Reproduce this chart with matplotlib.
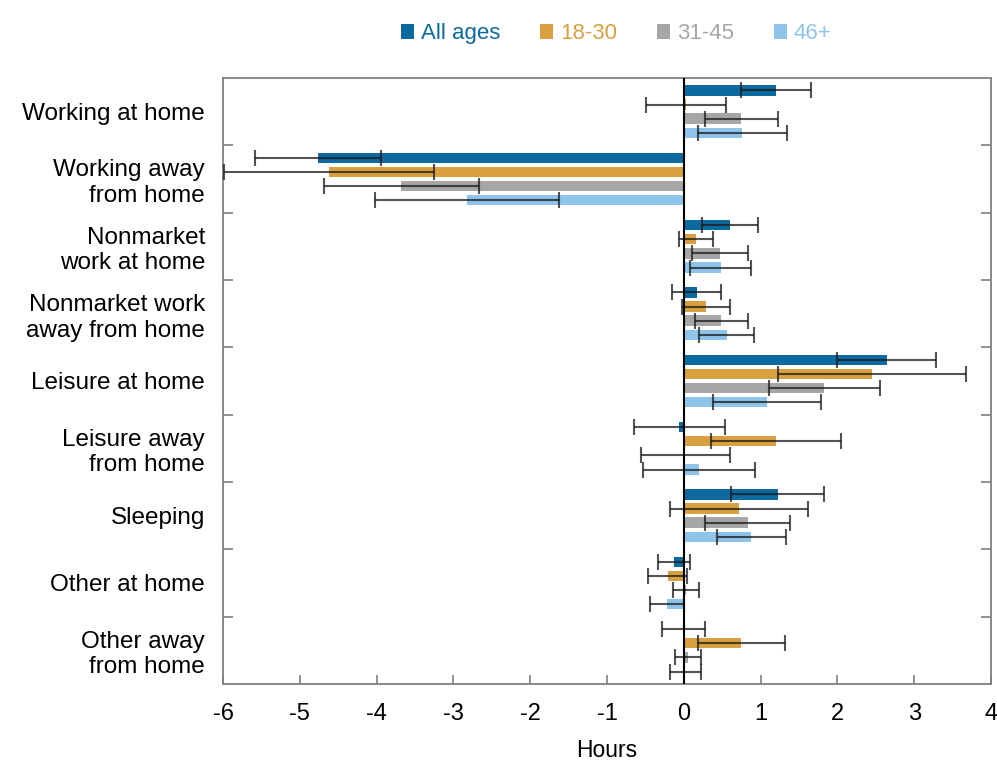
"""
Change in time use by activity and age group, hours per day.
"""
import numpy as np
import matplotlib
matplotlib.use("Agg")
import matplotlib.pyplot as plt
from matplotlib.patches import Patch

plt.rcParams["font.family"] = ["Liberation Sans", "DejaVu Sans"]
plt.rcParams["axes.unicode_minus"] = False

# ── Data ───────────────────────────────────────────────────────────────────
categories = [
    "Working at home",
    "Working away\nfrom home",
    "Nonmarket\nwork at home",
    "Nonmarket work\naway from home",
    "Leisure at home",
    "Leisure away\nfrom home",
    "Sleeping",
    "Other at home",
    "Other away\nfrom home",
]
groups = ["All ages", "18-30", "31-45", "46+"]

all_ages = [1.20, -4.76, 0.60, 0.17, 2.64, -0.06, 1.22, -0.13, -0.01]
all_err  = [0.46, 0.82, 0.36, 0.32, 0.65, 0.59, 0.60, 0.21, 0.28]

age_18_30 = [0.03, -4.62, 0.16, 0.29, 2.45, 1.20, 0.72, -0.21, 0.75]
err_18_30 = [0.52, 1.37, 0.22, 0.31, 1.22, 0.85, 0.90, 0.25, 0.57]

age_31_45 = [0.75, -3.68, 0.47, 0.49, 1.83, 0.02, 0.83, 0.03, 0.06]
err_31_45 = [0.48, 1.01, 0.37, 0.34, 0.72, 0.58, 0.55, 0.17, 0.17]

age_46p = [0.76, -2.82, 0.48, 0.56, 1.08, 0.20, 0.88, -0.22, 0.02]
err_46p = [0.58, 1.20, 0.40, 0.36, 0.70, 0.73, 0.45, 0.22, 0.20]

values = [all_ages, age_18_30, age_31_45, age_46p]
errors = [all_err, err_18_30, err_31_45, err_46p]
colors = ["#0b6a9f", "#d8a040", "#a6a6a8", "#8ec4ea"]

# ── Figure ─────────────────────────────────────────────────────────────────
fig = plt.figure(figsize=(9.97, 7.68), dpi=100)
ax = fig.add_axes([0.2237, 0.1094, 0.7703, 0.7891])

y = np.arange(len(categories))
offsets = [-0.315, -0.105, 0.105, 0.315]
bar_h = 0.155

for vals, errs, col, off in zip(values, errors, colors, offsets):
    ax.barh(y + off, vals, height=bar_h, color=col, zorder=2)
    ax.errorbar(vals, y + off, xerr=errs, fmt="none", ecolor="#1a1a1a",
                alpha=0.75, elinewidth=1.5, capsize=6, capthick=1.5, zorder=3)

ax.axvline(0, color="black", linewidth=1.5, zorder=4)

ax.set_xlim(-6, 4)
ax.set_ylim(len(categories) - 0.5, -0.5)
ax.set_xticks(range(-6, 5))
ax.set_xlabel("Hours", fontsize=16.5, labelpad=10)

ax.set_yticks(y)
ax.set_yticklabels(categories, fontsize=17.5)
ax.set_yticks(np.arange(0.5, len(categories) - 0.5, 1), minor=True)
ax.tick_params(axis="y", which="major", length=0, pad=13)
ax.tick_params(axis="y", which="minor", direction="in", length=7, width=1.2,
               left=True, right=True, color="#808080")
ax.tick_params(axis="x", direction="in", length=6.5, width=1.2, labelsize=17,
               pad=14, color="#808080", top=False)

for sp in ax.spines.values():
    sp.set_color("#808080")
    sp.set_linewidth(1.3)

# ── Legend ─────────────────────────────────────────────────────────────────
handles = [Patch(facecolor=c, label=g) for c, g in zip(colors, groups)]
fig.legend(handles=handles, loc="center", bbox_to_anchor=(0.618, 0.956),
           ncol=4, frameon=False, fontsize=16, handlelength=0.6,
           handleheight=0.6, handletextpad=0.3, columnspacing=1.8,
           labelcolor=colors)

plt.savefig("out.png", dpi=100)
